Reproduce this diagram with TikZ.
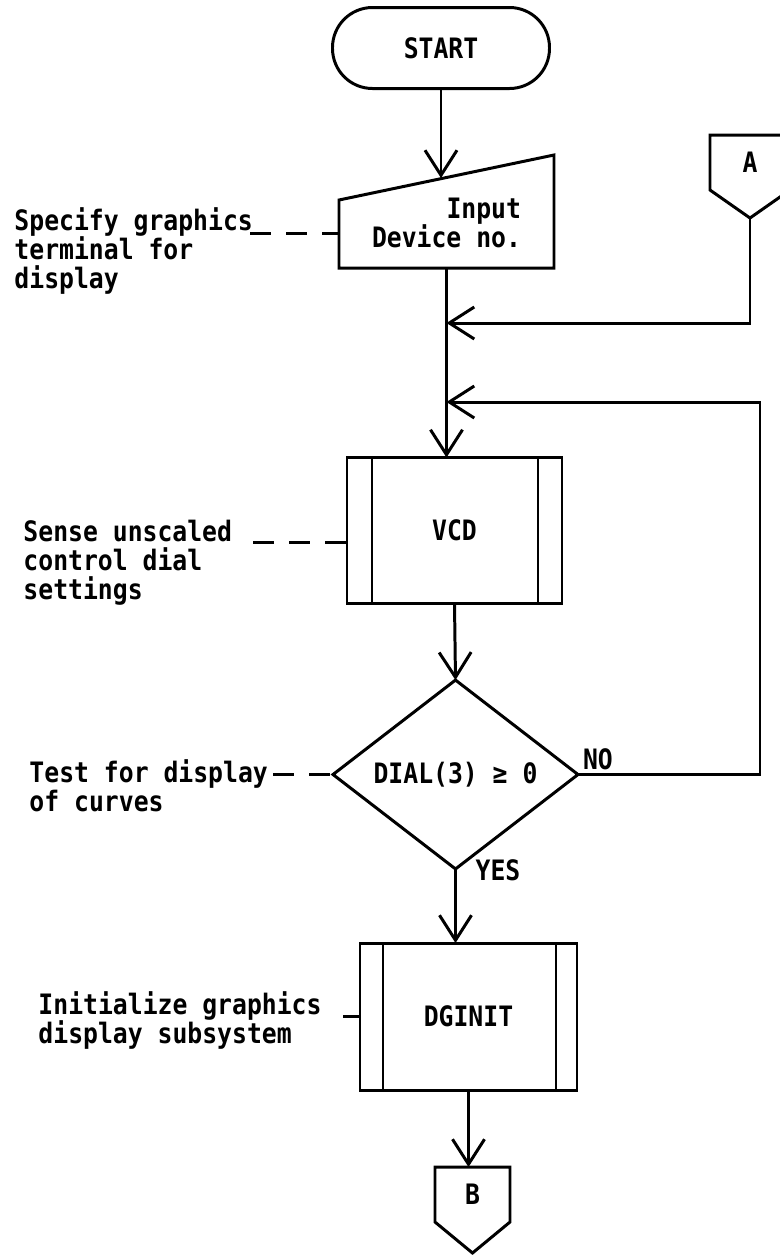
\documentclass[tikz,border=0pt]{standalone}
\usepackage{fontspec}
\setmainfont{DejaVu Sans Mono}[FakeStretch=0.88]
\usepackage{tikz}
\usetikzlibrary{arrows.meta, shapes.geometric, calc}

\begin{document}
\begin{tikzpicture}[
    >={Straight Barb[length=5mm, width=6.4mm]},
    line width=1.7pt,
    every node/.style={font=\bfseries\fontsize{16}{16.5}\selectfont},
    termbox/.style={draw, rectangle, rounded corners=0.8cm, minimum width=4.34cm, minimum height=1.62cm},
    inbox/.style={rectangle, minimum width=4.3cm, minimum height=1.8cm, outer sep=0pt, align=right},
    procbox/.style={draw, rectangle, minimum width=4.3cm, minimum height=2.92cm, outer sep=0pt},
    decbox/.style={draw, diamond, inner sep=0pt, minimum width=4.9cm, minimum height=2.9cm, outer sep=0pt},
    connbox/.style={rectangle, minimum height=1.1cm, outer sep=0pt},
    note/.style={anchor=north west, align=left, inner sep=0pt},
    lead/.style={dash pattern=on 0.42cm off 0.3cm}
]
    \useasboundingbox (0,0) rectangle (15.6,-25.1);

    % Start and input
    \node[termbox] (start) at (8.82,-0.96) {START};
    \node[inbox] (input) at (8.93,-4.46) {Input\\Device no.};
    \draw (input.south west) -- ([yshift=-0.44cm]input.north west)
        -- ([yshift=0.46cm]input.north east) -- (input.south east) -- cycle;
    \draw[->] (start.south) -- (start.south |- input.north);

    % Connector A
    \node[connbox, minimum width=1.6cm] (conA) at (15,-3.25) {A};
    \coordinate (tipA) at ($(conA.south)+(0,-0.56)$);
    \draw (conA.south west) -- (conA.north west) -- (conA.north east)
        -- (conA.south east) -- (tipA) -- cycle;

    % Main line with junctions
    \coordinate (jA) at (8.93,-6.46);
    \coordinate (jLoop) at (8.93,-8.04);

    \node[procbox] (vcd) at (9.09,-10.61) {VCD};
    \draw ([xshift=0.5cm]vcd.north west) -- ([xshift=0.5cm]vcd.south west);
    \draw ([xshift=-0.48cm]vcd.north east) -- ([xshift=-0.48cm]vcd.south east);

    \draw[->] (input.south) -- (input.south |- vcd.north);
    \draw[->] (tipA) |- (jA);

    % Decision
    \node[decbox] (dial) at (9.11,-15.49) {DIAL(3) ≥ 0};
    \node[above right, inner sep=2pt] (nolbl) at (dial.east) {NO};
    \node (yeslbl) at (9.96,-17.4) {YES};

    \draw[->] (vcd.south) -- (dial.north);
    \draw[->] (dial.east) -- ++(3.64,0) |- (jLoop);

    % DGINIT and connector B
    \node[procbox, minimum width=4.34cm, minimum height=2.94cm] (dginit) at (9.37,-20.33) {DGINIT};
    \draw ([xshift=0.46cm]dginit.north west) -- ([xshift=0.46cm]dginit.south west);
    \draw ([xshift=-0.42cm]dginit.north east) -- ([xshift=-0.42cm]dginit.south east);

    \node[connbox, minimum width=1.5cm] (conB) at (9.45,-23.89) {B};
    \draw (conB.south west) -- (conB.north west) -- (conB.north east)
        -- (conB.south east) -- ($(conB.south)+(0,-0.62)$) -- cycle;

    \draw[->] (dial.south) -- (dial.south |- dginit.north);
    \draw[->] (dginit.south) -- (dginit.south |- conB.north);

    % Notes
    \node[note] (specify) at (0.26,-4.12) {Specify graphics\\terminal for\\display};
    \node[note] (sense) at (0.44,-10.38) {Sense unscaled\\control dial\\settings};
    \node[note] (testc) at (0.56,-15.16) {Test for display\\of curves};
    \node[note] (initg) at (0.74,-19.8) {Initialize graphics\\display subsystem};

    \coordinate (leadSpec) at (5.0,-4.66);
    \coordinate (leadSense) at (5.06,-10.84);
    \coordinate (leadTest) at (5.46,-15.49);
    \coordinate (leadInit) at (6.86,-20.33);
    \draw[lead] (leadSpec) -- (leadSpec -| input.west);
    \draw[lead] (leadSense) -- (leadSense -| vcd.west);
    \draw[lead] (leadTest) -- (dial.west);
    \draw[lead] (leadInit) -- (dginit.west);

\end{tikzpicture}
\end{document}
